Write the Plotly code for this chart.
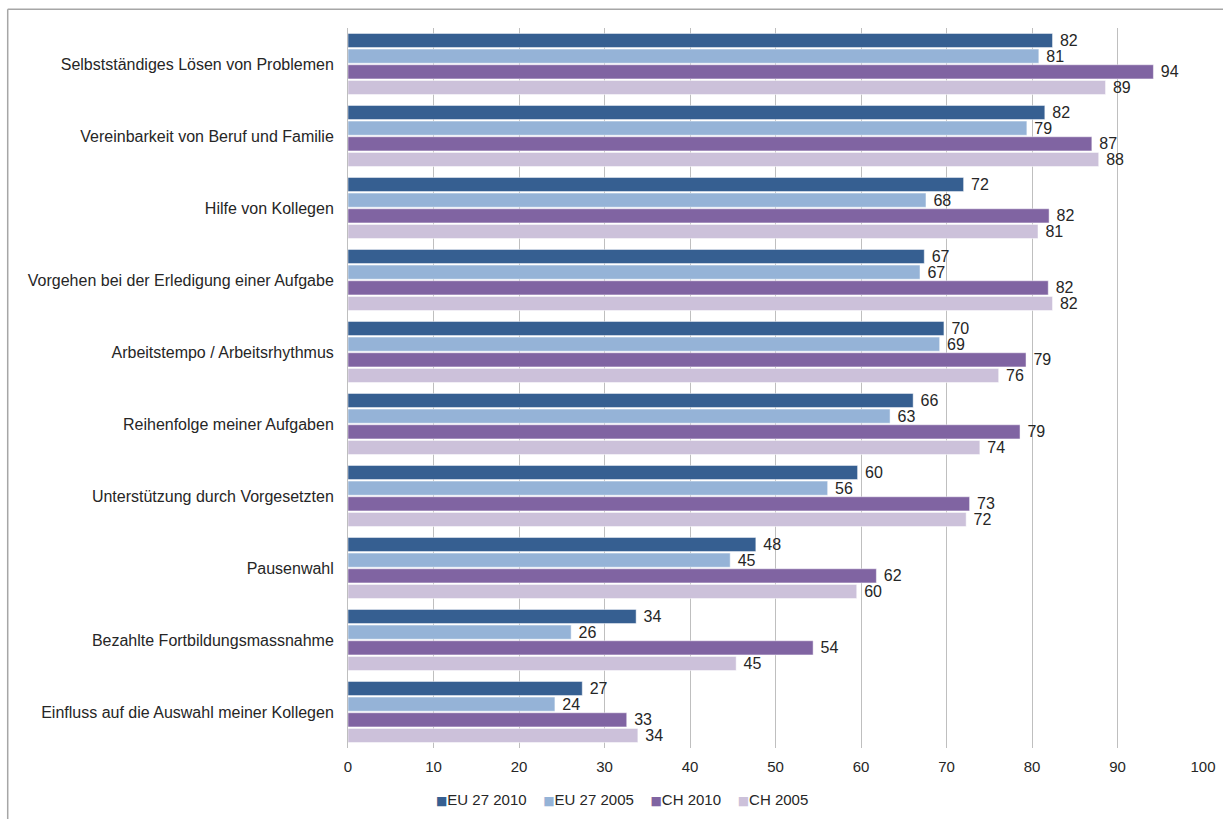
import plotly.graph_objects as go

categories = [
    "Selbstständiges Lösen von Problemen",
    "Vereinbarkeit von Beruf und Familie",
    "Hilfe von Kollegen",
    "Vorgehen bei der Erledigung einer Aufgabe",
    "Arbeitstempo / Arbeitsrhythmus",
    "Reihenfolge meiner Aufgaben",
    "Unterstützung durch Vorgesetzten",
    "Pausenwahl",
    "Bezahlte Fortbildungsmassnahme",
    "Einfluss auf die Auswahl meiner Kollegen",
]

series_names = ["EU 27 2010", "EU 27 2005", "CH 2010", "CH 2005"]

eu27_2010 = [82.4, 81.5, 72.0, 67.4, 69.7, 66.1, 59.6, 47.7, 33.7, 27.4]
eu27_2005 = [80.8, 79.4, 67.6, 66.9, 69.2, 63.4, 56.1, 44.7, 26.1, 24.2]
ch_2010 = [94.2, 87.0, 82.0, 81.9, 79.3, 78.6, 72.7, 61.8, 54.4, 32.6]
ch_2005 = [88.6, 87.8, 80.7, 82.4, 76.1, 73.9, 72.3, 59.5, 45.4, 33.9]

eu27_2010_lbl = [82, 82, 72, 67, 70, 66, 60, 48, 34, 27]
eu27_2005_lbl = [81, 79, 68, 67, 69, 63, 56, 45, 26, 24]
ch_2010_lbl = [94, 87, 82, 82, 79, 79, 73, 62, 54, 33]
ch_2005_lbl = [89, 88, 81, 82, 76, 74, 72, 60, 45, 34]

x_ticks = [0, 10, 20, 30, 40, 50, 60, 70, 80, 90, 100]

colors = ["#365F91", "#95B3D7", "#8064A2", "#CCC1DA"]

values = [eu27_2010, eu27_2005, ch_2010, ch_2005]
labels = [eu27_2010_lbl, eu27_2005_lbl, ch_2010_lbl, ch_2005_lbl]

fig = go.Figure()
for name, vals, lbls, col in zip(series_names, values, labels, colors):
    fig.add_trace(go.Bar(
        y=categories, x=vals, name=name, orientation="h",
        marker=dict(color=col, line=dict(color="rgba(255,255,255,0.6)", width=0.8)),
        text=["\u00a0" + str(v) for v in lbls], textposition="outside",
        constraintext="none",
        textfont=dict(family="Liberation Sans, Arial", size=16, color="#262626"),
        cliponaxis=False, showlegend=False,
    ))

# compact legend (square marker directly next to label, like the original)
legend_parts = []
for name, col in zip(series_names, colors):
    legend_parts.append(
        f"<span style='color:{col};font-size:12px;font-family:DejaVu Sans'>■</span>{name}"
    )
legend_text = "&nbsp;&nbsp;&nbsp;&nbsp;".join(legend_parts)

fig.update_layout(
    width=1223, height=819,
    margin=dict(l=348, r=20, t=28, b=71, autoexpand=False),
    barmode="group", bargap=0.13, bargroupgap=0.1,
    plot_bgcolor="white", paper_bgcolor="white",
    font=dict(family="Liberation Sans, Arial", size=15, color="#262626"),
    xaxis=dict(range=[0, 100], tickvals=x_ticks, showgrid=True, gridcolor="#BFBFBF",
               gridwidth=1, zeroline=False, showline=False, ticks="",
               ticklabelstandoff=8,
               tickfont=dict(size=15, color="#262626"), fixedrange=True,
               automargin=False),
    yaxis=dict(autorange="reversed", showline=True, linecolor="#BFBFBF", linewidth=1,
               ticks="", ticklabelstandoff=10, automargin=False,
               tickfont=dict(size=16, color="#262626"), showgrid=False),
    showlegend=False,
    annotations=[dict(text=legend_text, xref="paper", yref="paper", x=0.32, y=-0.072,
                      xanchor="center", yanchor="middle", showarrow=False,
                      font=dict(size=15, color="#262626", family="Liberation Sans, Arial"))],
    shapes=[
        dict(type="line", xref="paper", yref="paper", x0=-0.398, x1=1.03, y0=1.026, y1=1.026,
             line=dict(color="#A6A6A6", width=1.5)),
        dict(type="line", xref="paper", yref="paper", x0=-0.398, x1=-0.398, y0=1.026, y1=-0.12,
             line=dict(color="#A6A6A6", width=1.5)),
    ],
)

fig.write_html("out.html")
